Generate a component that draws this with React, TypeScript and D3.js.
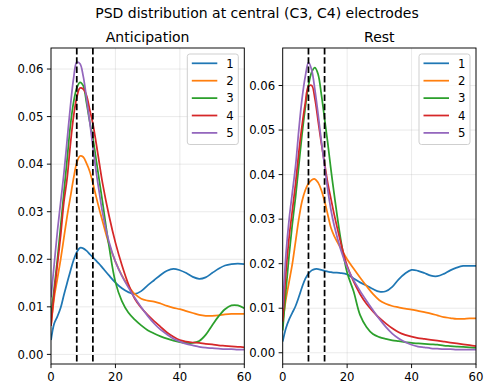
import React from "react";
import * as d3 from "d3";

const FREQ = [0,1,2,3,4,5,6,7,8,9,10,11,12,13,14,15,16,18,20,22,24,26,28,30,32,34,36,38,40,42,44,46,48,50,52,54,56,58,60];

// Anticipation
const ANT_1 = [0.003,0.0065,0.008,0.0098,0.0125,0.015,0.0175,0.0198,0.0215,0.0224,0.0223,0.0218,0.0211,0.0204,0.0197,0.019,0.0182,0.0166,0.0151,0.0139,0.0131,0.0127,0.0133,0.0145,0.0156,0.0167,0.0176,0.018,0.0177,0.0171,0.0163,0.0159,0.0162,0.0171,0.018,0.0187,0.019,0.0191,0.019];
const ANT_2 = [0.006,0.012,0.016,0.02,0.0245,0.029,0.033,0.037,0.0403,0.0417,0.0415,0.0402,0.0385,0.036,0.0332,0.0305,0.028,0.0232,0.0195,0.0166,0.0144,0.0127,0.0117,0.0113,0.0111,0.0107,0.0102,0.0098,0.0095,0.0091,0.0087,0.0083,0.0081,0.0081,0.0082,0.0084,0.0085,0.0085,0.0085];
const ANT_3 = [0.008,0.014,0.02,0.027,0.034,0.041,0.048,0.053,0.056,0.0572,0.0565,0.053,0.049,0.0455,0.041,0.0365,0.032,0.0228,0.0152,0.0112,0.0088,0.0073,0.0061,0.0051,0.0044,0.0038,0.0033,0.0029,0.0026,0.0024,0.0024,0.0028,0.0041,0.0061,0.008,0.0095,0.0103,0.0103,0.0097];
const ANT_4 = [0.006,0.013,0.019,0.025,0.032,0.037,0.044,0.05,0.054,0.056,0.0558,0.0545,0.0515,0.0485,0.0445,0.0402,0.036,0.0292,0.0235,0.0188,0.0148,0.0117,0.0098,0.0083,0.007,0.0058,0.0046,0.0037,0.003,0.0027,0.0025,0.0024,0.0022,0.0021,0.0019,0.0018,0.0017,0.0016,0.0015];
const ANT_5 = [0.012,0.019,0.026,0.032,0.038,0.045,0.052,0.058,0.0614,0.0611,0.0585,0.054,0.049,0.0437,0.0385,0.034,0.0298,0.0237,0.0195,0.0165,0.0141,0.0119,0.0099,0.0081,0.0065,0.0052,0.0042,0.0033,0.0027,0.0022,0.0019,0.0016,0.0014,0.0013,0.0012,0.0011,0.0011,0.001,0.001];

// Rest
const REST_1 = [0.0025,0.0055,0.0075,0.009,0.0105,0.0125,0.0147,0.0166,0.0178,0.0185,0.0188,0.0188,0.0186,0.0184,0.0182,0.0181,0.018,0.0179,0.0176,0.0167,0.0158,0.0151,0.0143,0.0137,0.0138,0.0148,0.0165,0.0178,0.0186,0.0184,0.0179,0.0173,0.0172,0.0177,0.0185,0.0191,0.0195,0.0195,0.0195];
const REST_2 = [0.007,0.012,0.016,0.02,0.025,0.03,0.034,0.0365,0.038,0.0388,0.039,0.0382,0.0365,0.034,0.031,0.028,0.0262,0.0235,0.021,0.0189,0.0169,0.015,0.0132,0.0118,0.011,0.0105,0.0102,0.0099,0.0097,0.0094,0.0091,0.0088,0.0084,0.008,0.0078,0.0076,0.0076,0.0077,0.0077];
const REST_3 = [0.005,0.014,0.022,0.029,0.035,0.042,0.049,0.055,0.06,0.063,0.064,0.0625,0.058,0.0525,0.047,0.041,0.0355,0.0255,0.018,0.0138,0.0085,0.0058,0.0042,0.0035,0.0031,0.0028,0.0026,0.0024,0.0022,0.0021,0.002,0.0019,0.0018,0.0016,0.0015,0.0014,0.0013,0.0012,0.0011];
const REST_4 = [0.007,0.018,0.026,0.032,0.038,0.045,0.051,0.056,0.0598,0.06,0.057,0.052,0.047,0.0425,0.038,0.0345,0.031,0.0248,0.0195,0.016,0.0132,0.011,0.0093,0.0078,0.0066,0.0055,0.0046,0.004,0.0036,0.0033,0.0031,0.0029,0.0027,0.0025,0.0023,0.0021,0.0019,0.0017,0.0015];
const REST_5 = [0.01,0.022,0.03,0.036,0.042,0.05,0.057,0.062,0.0652,0.0635,0.059,0.0535,0.0475,0.042,0.0365,0.032,0.0285,0.0232,0.0192,0.0163,0.0139,0.0117,0.0096,0.0076,0.0058,0.0043,0.0032,0.0024,0.0018,0.0014,0.0012,0.001,0.0009,0.0008,0.0008,0.0007,0.0007,0.0007,0.0007];

const SERIES_LABELS = ["1", "2", "3", "4", "5"];
const COLORS = ["#1f77b4", "#ff7f0e", "#2ca02c", "#d62728", "#9467bd"];
const X_TICKS = [0, 20, 40, 60];
const Y_TICKS = [0, 0.01, 0.02, 0.03, 0.04, 0.05, 0.06];
const BAND_LINES = [8, 13];
const SUPTITLE = "PSD distribution at central (C3, C4) electrodes";
const TITLES = ["Anticipation", "Rest"];

const FONT = "DejaVu Sans, sans-serif";
const TICK_FS = 11.7;

type PanelProps = {
  id: string;
  x0: number;
  x1: number;
  y0: number;
  y1: number;
  series: number[][];
  title: string;
};

function Panel({ id, x0, x1, y0, y1, series, title }: PanelProps) {
  const xs = d3.scaleLinear().domain([0, 60]).range([x0, x1]);
  const all = series.flat();
  const [mn, mx] = d3.extent(all) as [number, number];
  const pad = (mx - mn) * 0.05;
  const ys = d3.scaleLinear().domain([mn - pad, mx + pad]).range([y1, y0]);
  const line = d3
    .line<number>()
    .x((_, i) => xs(FREQ[i]))
    .y((v) => ys(v))
    .curve(d3.curveCatmullRom.alpha(0.5));

  const legX = x1 - 57;
  const legY = y0 + 6;
  const legW = 51;
  const rowH = 17.4;

  return (
    <g>
      <defs>
        <clipPath id={id}>
          <rect x={x0} y={y0} width={x1 - x0} height={y1 - y0} />
        </clipPath>
      </defs>
      {/* grid */}
      {X_TICKS.map((t) => (
        <line key={"gx" + t} x1={xs(t)} x2={xs(t)} y1={y0} y2={y1} stroke="#b0b0b0" strokeOpacity={0.3} strokeWidth={0.9} />
      ))}
      {Y_TICKS.map((t) => (
        <line key={"gy" + t} x1={x0} x2={x1} y1={ys(t)} y2={ys(t)} stroke="#b0b0b0" strokeOpacity={0.3} strokeWidth={0.9} />
      ))}
      {/* series */}
      <g clipPath={`url(#${id})`}>
        {series.map((s, k) => (
          <path key={k} d={line(s) || ""} fill="none" stroke={COLORS[k]} strokeWidth={1.75} strokeLinejoin="round" strokeLinecap="butt" />
        ))}
        {BAND_LINES.map((b) => (
          <line key={"b" + b} x1={xs(b)} x2={xs(b)} y1={y0} y2={y1} stroke="#000" strokeWidth={1.75} strokeDasharray="6.5,2.8" />
        ))}
      </g>
      {/* spines */}
      <rect x={x0} y={y0} width={x1 - x0} height={y1 - y0} fill="none" stroke="#000" strokeWidth={0.94} />
      {/* x ticks */}
      {X_TICKS.map((t) => (
        <g key={"xt" + t}>
          <line x1={xs(t)} x2={xs(t)} y1={y1} y2={y1 + 4.1} stroke="#000" strokeWidth={0.94} />
          <text x={xs(t)} y={y1 + 17} textAnchor="middle" fontFamily={FONT} fontSize={TICK_FS} fill="#000">
            {t}
          </text>
        </g>
      ))}
      {/* y ticks */}
      {Y_TICKS.map((t) => (
        <g key={"yt" + t}>
          <line x1={x0 - 4.1} x2={x0} y1={ys(t)} y2={ys(t)} stroke="#000" strokeWidth={0.94} />
          <text x={x0 - 7.5} y={ys(t)} dy="0.36em" textAnchor="end" fontFamily={FONT} fontSize={TICK_FS} fill="#000">
            {d3.format(".2f")(t)}
          </text>
        </g>
      ))}
      {/* title */}
      <text x={(x0 + x1) / 2} y={41.5} textAnchor="middle" fontFamily={FONT} fontSize={14} fill="#000">
        {title}
      </text>
      {/* legend */}
      <rect x={legX} y={legY} width={legW} height={90.5} rx={2.5} fill="#fff" fillOpacity={0.8} stroke="#cccccc" strokeWidth={0.94} />
      {SERIES_LABELS.map((lab, k) => {
        const yy = legY + 9.3 + k * rowH;
        return (
          <g key={"lg" + k}>
            <line x1={legX + 4.5} x2={legX + 30} y1={yy} y2={yy} stroke={COLORS[k]} strokeWidth={1.75} />
            <text x={legX + 39} y={yy} dy="0.36em" fontFamily={FONT} fontSize={TICK_FS} fill="#000">
              {lab}
            </text>
          </g>
        );
      })}
    </g>
  );
}

export default function App() {
  const ant = [ANT_1, ANT_2, ANT_3, ANT_4, ANT_5];
  const rest = [REST_1, REST_2, REST_3, REST_4, REST_5];
  return (
    <svg width={487} height={392} style={{ position: "absolute", left: 0, top: 0, background: "#fff" }}>
      <rect x={0} y={0} width={487} height={392} fill="#fff" />
      <text x={257} y={18} textAnchor="middle" fontFamily={FONT} fontSize={14} fill="#000">
        {SUPTITLE}
      </text>
      <Panel id="clipA" x0={51} x1={244.3} y0={48} y1={364} series={ant} title={TITLES[0]} />
      <Panel id="clipR" x0={282.7} x1={476} y0={48} y1={364} series={rest} title={TITLES[1]} />
    </svg>
  );
}
